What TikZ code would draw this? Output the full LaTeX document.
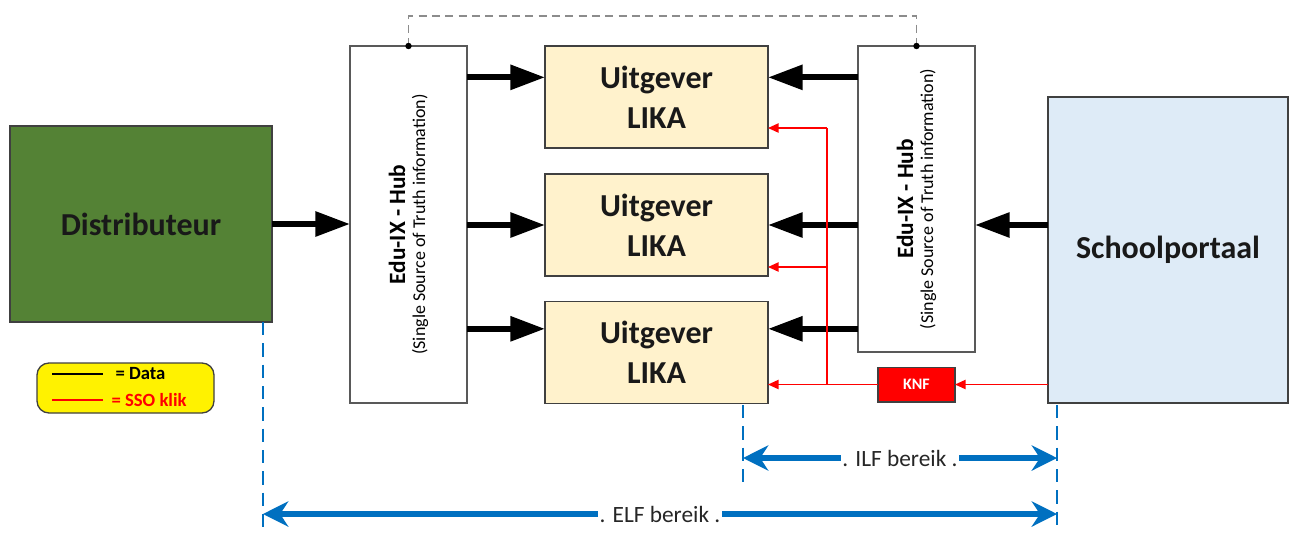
\documentclass[tikz,border=0pt]{standalone}
\usepackage{fontspec}
\setmainfont{Carlito}
\usetikzlibrary{arrows.meta}

\definecolor{distgreen}{RGB}{84,130,53}
\definecolor{likacream}{RGB}{255,242,204}
\definecolor{portalblue}{RGB}{222,235,247}
\definecolor{rangeblue}{RGB}{0,112,192}
\definecolor{ssored}{RGB}{255,0,0}

\tikzset{every picture/.style={line width=0.75pt}}
\tikzset{
  box/.style={draw=black!75, line width=1pt, outer sep=0pt, inner sep=0pt, align=center},
  distbox/.style={box, fill=distgreen, minimum width=196.5pt, minimum height=147pt, text=black!90, font=\fontsize{24}{29}\selectfont\bfseries},
  hubbox/.style={box, draw=black!65, fill=white, minimum width=87.75pt},
  uitbox/.style={box, fill=likacream, minimum width=167.25pt, minimum height=76.5pt, text=black!90, font=\fontsize{24}{30}\selectfont\bfseries},
  portalbox/.style={box, fill=portalblue, minimum width=180pt, minimum height=229.5pt, text=black!90, font=\fontsize{24}{29}\selectfont\bfseries},
  knfbox/.style={box, fill=ssored, minimum width=57.75pt, minimum height=26pt, text=white, font=\fontsize{12}{14}\selectfont\bfseries},
  hubtext/.style={rotate=90, align=center, inner sep=0pt},
  legendbox/.style={draw=black!75, line width=1pt, fill=yellow, rounded corners=9pt, minimum width=132.75pt, minimum height=37.5pt},
  legtext/.style={inner sep=0pt, font=\fontsize{14}{16}\selectfont\bfseries},
  data/.style={draw=black, line width=4.5pt, -{Triangle[length=26pt,width=18pt]}},
  sso/.style={draw=ssored, line width=1.1pt, -{Triangle[length=8pt,width=7pt]}},
  ssoline/.style={draw=ssored, line width=1.1pt},
  link/.style={draw=black!45, line width=1.1pt, dash pattern=on 6pt off 4pt},
  guide/.style={draw=rangeblue, line width=1.4pt, dash pattern=on 10pt off 6pt},
  rangearrow/.style={draw=rangeblue, line width=4pt, {Stealth[length=19pt,width=19pt]}-{Stealth[length=19pt,width=19pt]}},
  rangelabel/.style={midway, fill=white, inner sep=1pt, text=black!85, font=\fontsize{17.5}{20}\selectfont}
}

\begin{document}
\begin{tikzpicture}[x=0.75pt,y=0.75pt,yscale=-1,xscale=1]
\useasboundingbox (0,0) rectangle (1294,533);

% boxes
\node[distbox] (dist) at (141,224) {Distributeur};
\node[hubbox, minimum height=267.75pt] (hubL) at (408.5,224.5) {};
\node[hubbox, minimum height=229.5pt] (hubR) at (916.5,199) {};
\node[uitbox] (uit1) at (656.5,97) {Uitgever\\LIKA};
\node[uitbox] (uit2) at (656.5,225) {Uitgever\\LIKA};
\node[uitbox] (uit3) at (656.5,352.5) {Uitgever\\LIKA};
\node[portalbox] (school) at (1168,250) {Schoolportaal};
\node[knfbox] (knf) at (916.5,384.5) {KNF};

% hub texts
\node[hubtext] (hubLtxt) at (hubL) {{\fontsize{17.5}{21}\selectfont\bfseries Edu-IX - Hub}\\[3pt]{\fontsize{13.5}{15}\selectfont (Single Source of Truth information)}};
\node[hubtext] (hubRtxt) at (hubR) {{\fontsize{17.5}{21}\selectfont\bfseries Edu-IX - Hub}\\[3pt]{\fontsize{13.5}{15}\selectfont (Single Source of Truth information)}};

% data
\draw[data] (dist.east) -- (dist.east -| hubL.west);
\draw[data] (hubL.east |- uit1.170) -- (uit1.170);
\draw[data] (hubL.east |- uit2.west) -- (uit2.west);
\draw[data] (hubL.east |- uit3.168) -- (uit3.168);
\draw[data] (hubR.west |- uit1.10) -- (uit1.10);
\draw[data] (hubR.west |- uit2.east) -- (uit2.east);
\draw[data] (hubR.west |- uit3.12) -- (uit3.12);
\draw[data] (school.west |- uit2.east) -- (uit2.east -| hubR.east);

% hub sync
\draw[link] (hubL.north) -- ++(0,-30) -| (hubR.north);
\fill (hubL.north) circle (2.4pt);
\fill (hubR.north) circle (2.4pt);

% sso
\coordinate (ssoTop) at (827,128);
\coordinate (ssoMid) at (827,267);
\draw[sso] (school.west |- knf) -- (knf.east);
\draw[sso] (knf.west) -- (knf.west -| uit3.east);
\draw[ssoline] (ssoTop |- knf) -- (ssoTop);
\draw[sso] (ssoTop) -- (ssoTop -| uit1.east);
\draw[sso] (ssoMid) -- (ssoMid -| uit2.east);

% legend
\node[legendbox] (legend) at (125.5,388) {};
\draw[black, line width=1pt] (52,374) -- (103,374);
\draw[ssored, line width=1pt] (52,400) -- (103,400);
\node[legtext, anchor=west] (legData) at (115,374) {= Data};
\node[legtext, anchor=west, text=ssored] (legSSO) at (111,400) {= SSO klik};

% ranges
\coordinate (elfL) at (263,514);
\coordinate (elfR) at (1057,514);
\coordinate (ilfL) at (743,458);
\coordinate (ilfR) at (1057,458);
\draw[guide] (263,322) -- (263,533);
\draw[guide] (743,405) -- (743,490);
\draw[guide] (1057,405) -- (1057,533);
\draw[rangearrow] (ilfL) -- (ilfR) node[rangelabel] (ilf) {. ILF bereik .};
\draw[rangearrow] (elfL) -- (elfR) node[rangelabel] (elf) {. ELF bereik .};

\end{tikzpicture}
\end{document}
